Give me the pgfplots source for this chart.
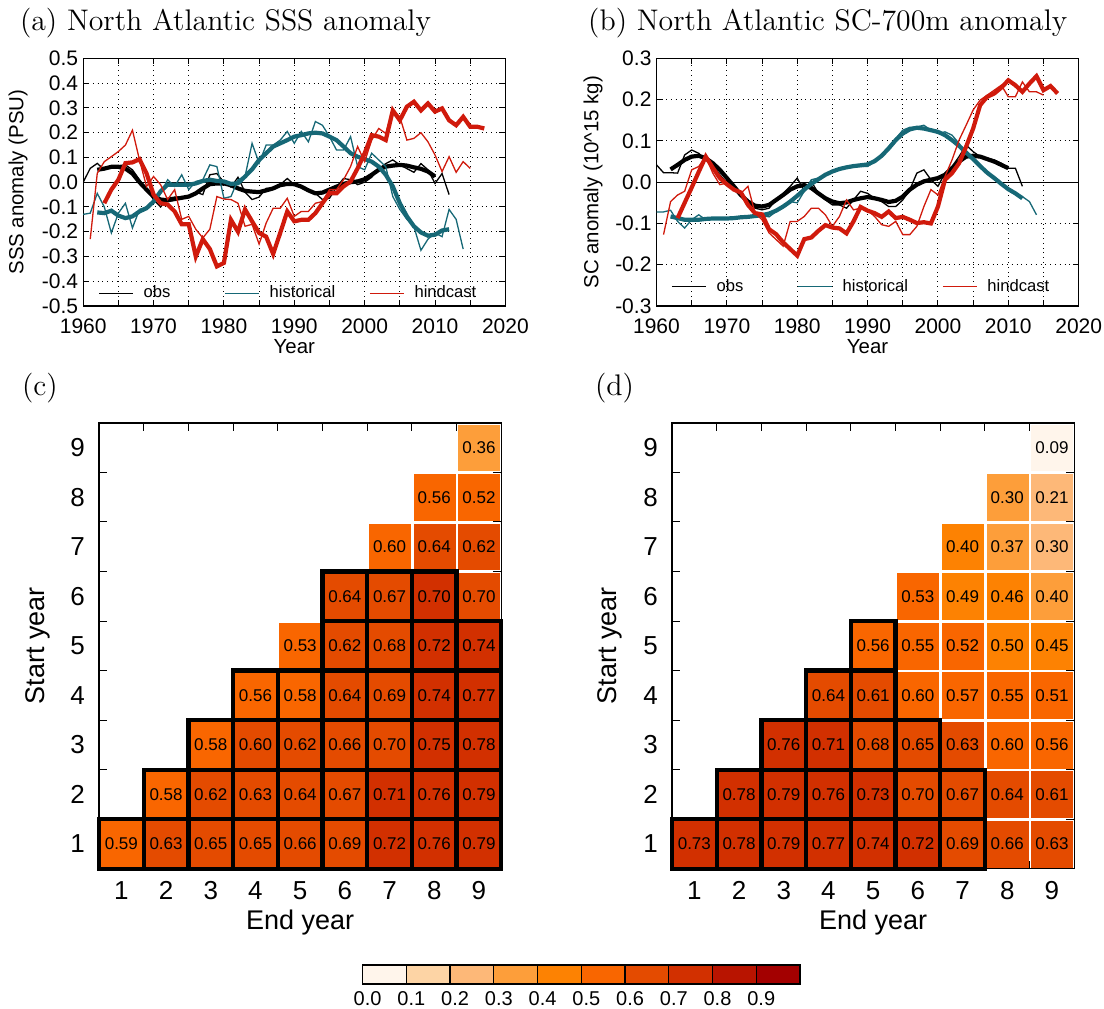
\documentclass[border=0pt]{standalone}
\usepackage{pgfplots}
\pgfplotsset{compat=1.18}
\usepackage{pgfplotstable}
\usepackage{fontspec}
\newfontfamily\arial{Liberation Sans}
\definecolor{obsc}{RGB}{0,0,0}
\definecolor{histc}{RGB}{22,104,118}
\definecolor{hindc}{RGB}{208,26,12}

\pgfplotstableread{
yr obs obsS hist histS hind hindS
1960 0.000 nan -0.130 nan nan nan
1961 0.056 nan -0.125 nan -0.230 nan
1962 0.076 0.050 -0.045 -0.122 0.036 nan
1963 0.050 0.055 -0.100 -0.125 0.083 -0.085
1964 0.063 0.062 -0.205 -0.115 0.103 -0.030
1965 0.067 0.062 -0.125 -0.135 0.124 0.010
1966 0.070 0.055 -0.085 -0.145 0.150 0.077
1967 0.050 0.035 -0.185 -0.138 0.210 0.080
1968 0.010 0.000 -0.110 -0.118 0.090 0.093
1969 -0.030 -0.030 -0.100 -0.105 -0.017 0.036
1970 -0.070 -0.058 -0.080 -0.078 0.023 -0.050
1971 -0.100 -0.070 -0.045 -0.037 -0.010 -0.085
1972 -0.065 -0.073 0.010 -0.010 -0.070 -0.090
1973 -0.060 -0.068 -0.017 -0.010 -0.030 -0.118
1974 -0.060 -0.063 0.030 -0.010 -0.150 -0.170
1975 -0.058 -0.058 -0.030 -0.010 -0.138 -0.170
1976 -0.040 -0.045 0.003 -0.005 -0.190 -0.300
1977 -0.050 -0.025 0.010 0.005 -0.225 -0.230
1978 0.030 -0.008 0.070 0.010 -0.190 -0.270
1979 0.035 -0.005 0.063 0.005 -0.058 -0.340
1980 0.000 -0.005 -0.065 0.003 -0.068 -0.326
1981 -0.020 -0.012 -0.058 -0.007 -0.070 -0.152
1982 0.020 -0.025 0.010 -0.004 -0.085 -0.200
1983 -0.040 -0.035 0.023 0.023 -0.178 -0.110
1984 -0.070 -0.038 0.157 0.052 -0.170 -0.158
1985 -0.060 -0.040 0.077 0.090 -0.250 -0.205
1986 -0.025 -0.033 0.150 0.117 -0.165 -0.220
1987 -0.025 -0.025 0.150 0.144 -0.105 -0.290
1988 -0.010 -0.012 0.170 0.157 -0.105 -0.205
1989 0.015 -0.007 0.205 0.170 -0.065 -0.118
1990 -0.010 -0.008 0.157 0.184 -0.138 -0.158
1991 -0.020 -0.018 0.205 0.190 -0.118 -0.152
1992 -0.030 -0.033 0.163 0.197 -0.118 -0.152
1993 -0.045 -0.045 0.245 0.200 -0.085 -0.125
1994 -0.070 -0.042 0.230 0.197 -0.078 -0.085
1995 -0.065 -0.030 0.184 0.184 -0.030 -0.045
1996 -0.020 -0.018 0.130 0.170 -0.030 -0.045
1997 0.015 -0.007 0.130 0.144 0.010 -0.017
1998 0.010 0.000 0.184 0.117 0.063 0.003
1999 -0.010 0.003 0.063 0.103 0.144 0.056
2000 0.000 0.012 0.050 0.093 0.083 0.117
2001 0.020 0.030 0.117 0.083 0.170 0.190
2002 0.055 0.050 0.090 0.063 0.217 0.184
2003 0.075 0.063 0.063 0.030 0.197 0.170
2004 0.090 0.067 -0.058 -0.017 0.290 0.290
2005 0.070 0.070 -0.110 -0.085 0.264 0.250
2006 0.055 0.067 -0.150 -0.138 0.170 0.305
2007 0.040 0.060 -0.180 -0.178 0.177 0.325
2008 0.075 0.054 -0.275 -0.203 0.200 0.290
2009 0.050 0.043 -0.230 -0.216 0.163 0.318
2010 -0.005 0.023 -0.205 -0.212 0.110 0.285
2011 0.035 nan -0.220 -0.195 0.043 0.298
2012 -0.050 nan -0.110 -0.190 0.103 0.250
2013 nan nan -0.150 nan 0.040 0.230
2014 nan nan -0.270 nan 0.083 0.264
2015 nan nan nan nan 0.056 0.224
2016 nan nan nan nan nan 0.224
2017 nan nan nan nan nan 0.217
}\atab

\pgfplotstableread{
yr obs obsS hist histS hind hindS
1960 0.042 nan -0.072 nan nan nan
1961 0.023 nan -0.072 nan -0.127 nan
1962 0.023 0.031 -0.068 -0.083 -0.047 nan
1963 0.022 0.042 -0.095 -0.087 -0.031 -0.087
1964 0.066 0.054 -0.111 -0.091 -0.022 -0.050
1965 0.078 0.062 -0.091 -0.091 0.030 -0.013
1966 0.070 0.064 -0.079 -0.091 0.038 0.025
1967 0.054 0.058 -0.091 -0.089 0.062 0.062
1968 0.042 0.046 -0.087 -0.088 0.022 0.035
1969 0.018 0.030 -0.089 -0.088 -0.006 0.010
1970 -0.002 0.010 -0.088 -0.088 -0.002 -0.005
1971 -0.018 -0.010 -0.087 -0.087 -0.018 -0.018
1972 -0.035 -0.031 -0.085 -0.085 -0.027 -0.025
1973 -0.050 -0.047 -0.084 -0.084 -0.010 -0.055
1974 -0.063 -0.057 -0.083 -0.082 -0.075 -0.075
1975 -0.067 -0.059 -0.081 -0.080 -0.091 -0.078
1976 -0.063 -0.055 -0.084 -0.076 -0.123 -0.114
1977 -0.043 -0.043 -0.071 -0.069 -0.139 -0.126
1978 -0.027 -0.031 -0.060 -0.059 -0.155 -0.146
1979 -0.010 -0.018 -0.047 -0.047 -0.095 -0.162
1980 0.010 -0.010 -0.050 -0.033 -0.095 -0.178
1981 -0.022 -0.007 -0.022 -0.018 -0.083 -0.138
1982 0.002 -0.014 0.006 -0.004 -0.063 -0.134
1983 -0.027 -0.027 0.010 0.007 -0.063 -0.118
1984 -0.043 -0.039 0.020 0.018 -0.079 -0.104
1985 -0.055 -0.047 0.026 0.026 -0.107 -0.110
1986 -0.055 -0.051 0.031 0.032 -0.083 -0.112
1987 -0.063 -0.049 0.036 0.036 -0.043 -0.124
1988 -0.043 -0.043 0.039 0.039 -0.067 -0.095
1989 -0.022 -0.039 0.038 0.041 -0.063 -0.060
1990 -0.027 -0.036 0.038 0.043 -0.068 -0.069
1991 -0.039 -0.039 0.050 0.051 -0.083 -0.075
1992 -0.047 -0.043 0.062 0.064 -0.103 -0.084
1993 -0.059 -0.048 0.086 0.082 -0.107 -0.071
1994 -0.059 -0.045 0.106 0.102 -0.095 -0.087
1995 -0.043 -0.035 0.126 0.118 -0.127 -0.084
1996 -0.018 -0.018 0.133 0.128 -0.127 -0.091
1997 0.022 -0.006 0.134 0.132 -0.107 -0.099
1998 0.030 0.002 0.138 0.130 -0.059 -0.097
1999 0.006 0.006 0.126 0.126 -0.018 -0.100
2000 -0.010 0.010 0.118 0.122 -0.031 -0.059
2001 0.022 0.018 0.122 0.114 0.014 0.006
2002 0.038 0.034 0.114 0.102 0.054 0.022
2003 0.062 0.050 0.094 0.088 0.102 0.046
2004 0.090 0.062 0.070 0.072 0.138 0.086
2005 0.074 0.064 0.054 0.056 0.175 0.130
2006 0.062 0.062 0.038 0.039 0.199 0.187
2007 0.058 0.056 0.022 0.023 0.211 0.207
2008 0.054 0.050 0.010 0.010 0.223 0.215
2009 0.046 0.042 -0.006 -0.004 0.235 0.229
2010 0.034 0.034 -0.018 -0.017 0.207 0.247
2011 0.034 nan -0.027 -0.027 0.207 0.235
2012 -0.010 nan -0.035 -0.039 0.243 0.219
2013 nan nan -0.047 nan 0.219 0.239
2014 nan nan -0.079 nan 0.219 0.257
2015 nan nan nan nan 0.211 0.223
2016 nan nan nan nan nan 0.233
2017 nan nan nan nan nan 0.215
}\btab

\pgfplotstableread{
e s v
1 1 0.59
2 1 0.63
3 1 0.65
4 1 0.65
5 1 0.66
6 1 0.69
7 1 0.72
8 1 0.76
9 1 0.79
2 2 0.58
3 2 0.62
4 2 0.63
5 2 0.64
6 2 0.67
7 2 0.71
8 2 0.76
9 2 0.79
3 3 0.58
4 3 0.602
5 3 0.62
6 3 0.66
7 3 0.698
8 3 0.75
9 3 0.78
4 4 0.56
5 4 0.58
6 4 0.64
7 4 0.69
8 4 0.74
9 4 0.77
5 5 0.53
6 5 0.62
7 5 0.68
8 5 0.72
9 5 0.74
6 6 0.64
7 6 0.67
8 6 0.702
9 6 0.698
7 7 0.598
8 7 0.64
9 7 0.62
8 8 0.56
9 8 0.52
9 9 0.36
}\ctab

\pgfplotstableread{
e s
1 1
2 1
3 1
4 1
5 1
6 1
7 1
8 1
9 1
2 2
3 2
4 2
5 2
6 2
7 2
8 2
9 2
3 3
4 3
5 3
6 3
7 3
8 3
9 3
4 4
5 4
6 4
7 4
8 4
9 4
6 5
7 5
8 5
9 5
6 6
7 6
8 6
}\csig

\pgfplotstableread{
e s v
1 1 0.73
2 1 0.78
3 1 0.79
4 1 0.77
5 1 0.74
6 1 0.72
7 1 0.69
8 1 0.66
9 1 0.63
2 2 0.78
3 2 0.79
4 2 0.76
5 2 0.73
6 2 0.698
7 2 0.67
8 2 0.64
9 2 0.61
3 3 0.76
4 3 0.71
5 3 0.68
6 3 0.65
7 3 0.63
8 3 0.598
9 3 0.56
4 4 0.64
5 4 0.61
6 4 0.598
7 4 0.57
8 4 0.55
9 4 0.51
5 5 0.56
6 5 0.55
7 5 0.52
8 5 0.498
9 5 0.45
6 6 0.53
7 6 0.49
8 6 0.46
9 6 0.398
7 7 0.402
8 7 0.37
9 7 0.298
8 8 0.302
9 8 0.21
9 9 0.09
}\dtab

\pgfplotstableread{
e s
1 1
2 1
3 1
4 1
5 1
6 1
7 1
2 2
3 2
4 2
5 2
6 2
7 2
3 3
4 3
5 3
6 3
4 4
5 4
5 5
}\dsig

\pgfplotsset{
  colormap={orng}{rgb255=(255,245,235) rgb255=(253,212,165) rgb255=(253,184,120) rgb255=(253,158,58) rgb255=(253,130,2) rgb255=(249,102,0) rgb255=(228,75,0) rgb255=(210,48,0) rgb255=(184,20,0) rgb255=(163,0,0)},
  lineax/.style={
    scale only axis, width=211.1pt, height=123.8pt, anchor=south west,
    xmin=1960, xmax=2020,
    xtick={1960,1970,...,2020}, minor xtick={1965,1975,...,2015},
    grid=both,
    major grid style={dotted, black, line width=0.5pt},
    minor grid style={dotted, black, line width=0.5pt},
    tick align=inside, major tick length=3pt, minor tick length=3pt,
    tick style={black, line width=0.5pt},
    axis line style={black, line width=0.7pt},
    /pgf/number format/assume math mode=true,
    /pgf/number format/1000 sep={},
    ticklabel style={font=\arial\fontsize{10.5}{11}\selectfont},
    xticklabel style={yshift=-3pt},
    yticklabel style={xshift=1pt, /pgf/number format/.cd, fixed, fixed zerofill, precision=1},
    scaled y ticks=false,
    label style={font=\arial\fontsize{10.2}{12}\selectfont},
    xlabel={Year},
    xlabel style={at={(axis description cs:0.5,-0.165)}, anchor=center},
    legend columns=3,
    legend image code/.code={\draw[#1] (0pt,0pt) -- (17pt,0pt);},
  },
  legsty/.style={draw=none, fill=none, font=\arial\fontsize{8.3}{10}\selectfont,
    anchor=west, inner sep=0pt,
    /tikz/column 1/.style={column sep=3pt}, /tikz/column 3/.style={column sep=3pt},
    /tikz/column 5/.style={column sep=3pt},
    /tikz/column 2/.style={column sep=25pt}, /tikz/column 4/.style={column sep=15pt}},
  thn/.style={line width=0.65pt},
  thk/.style={line width=2.1pt, forget plot},
  hm/.style={
    scale only axis, width=201.15pt, height=222.9pt, anchor=south west,
    xmin=0.5, xmax=9.5, ymin=0.5, ymax=9.5,
    xtick={1,...,9}, ytick={1,...,9},
    minor xtick={1.5,2.5,...,8.5}, minor ytick={1.5,2.5,...,8.5},
    major tick length=0pt, minor tick length=4pt, tick align=inside,
    tick style={black, line width=0.5pt},
    axis line style={black, line width=0.7pt},
    /pgf/number format/assume math mode=true,
    ticklabel style={font=\arial\fontsize{13}{14}\selectfont},
    xticklabel style={yshift=-3pt}, yticklabel style={xshift=-3.5pt},
    label style={font=\arial\fontsize{13.5}{15}\selectfont},
    xlabel={End year}, ylabel={Start year},
    xlabel style={at={(axis description cs:0.5,-0.12)}, anchor=center},
    colormap name=orng, colormap access=piecewise constant,
    point meta min=0, point meta max=1,
    clip=false,
  },
  hmfill/.style={scatter, only marks, mark=square*, point meta=explicit,
    scatter/use mapped color={draw=mapped color, fill=mapped color},
    line width=0.2pt, mark size=11.45pt, mark options={xscale=0.895}},
  hmsig/.style={only marks, mark=square, mark size=12.38pt,
    mark options={draw=black, line width=2.1pt, xscale=0.902}},
  hmtext/.style={only marks, mark=none, point meta=explicit,
    nodes near coords={\pgfmathprintnumber[fixed, fixed zerofill, precision=2]{\pgfplotspointmeta}},
    nodes near coords align={center},
    every node near coord/.append style={font=\arial\fontsize{8.5}{10}\selectfont, text=black, inner sep=0pt}},
}

\begin{document}
\begin{tikzpicture}
\path[use as bounding box] (0pt,0pt) rectangle (552pt,504pt);

\node[anchor=west, inner sep=0pt, font=\fontsize{14.9}{16}\selectfont] at (9.8pt,492.3pt) {(a) North Atlantic SSS anomaly};
\node[anchor=west, inner sep=0pt, font=\fontsize{14.9}{16}\selectfont] at (293.9pt,492.3pt) {(b) North Atlantic SC-700m anomaly};
\node[anchor=west, inner sep=0pt, font=\fontsize{14.9}{16}\selectfont] at (10.8pt,310.2pt) {(c)};
\node[anchor=west, inner sep=0pt, font=\fontsize{14.9}{16}\selectfont] at (297.3pt,310.2pt) {(d)};

% (a)
\begin{axis}[lineax, at={(41.6pt,351pt)},
  ymin=-0.5, ymax=0.5,
  ytick={-0.5,-0.4,-0.3,-0.2,-0.1,0,0.1,0.2,0.3,0.4,0.5},
  ylabel={SSS anomaly (PSU)},
  ylabel style={at={(axis description cs:-0.154,0.5)}, anchor=center},
  legend style={legsty, at={(axis description cs:0.035,0.051)}},
]
\addplot[black, line width=0.5pt, forget plot] coordinates {(1960,0) (2020,0)};
\addplot[obsc, thn] table[x=yr, y=obs] {\atab}; \addlegendentry{obs}
\addplot[obsc, thk] table[x=yr, y=obsS] {\atab};
\addplot[histc, thn] table[x=yr, y=hist] {\atab}; \addlegendentry{historical}
\addplot[histc, thk] table[x=yr, y=histS] {\atab};
\addplot[hindc, thn] table[x=yr, y=hind] {\atab}; \addlegendentry{hindcast}
\addplot[hindc, thk] table[x=yr, y=hindS] {\atab};
\end{axis}

% (b)
\begin{axis}[lineax, at={(328.25pt,351pt)},
  ymin=-0.3, ymax=0.3,
  ytick={-0.3,-0.2,-0.1,0,0.1,0.2,0.3},
  ylabel={SC anomaly (10\^{}15 kg)},
  ylabel style={at={(axis description cs:-0.150,0.5)}, anchor=center},
  legend style={legsty, at={(axis description cs:0.034,0.078)}},
]
\addplot[black, line width=0.5pt, forget plot] coordinates {(1960,0) (2020,0)};
\addplot[obsc, thn] table[x=yr, y=obs] {\btab}; \addlegendentry{obs}
\addplot[obsc, thk] table[x=yr, y=obsS] {\btab};
\addplot[histc, thn] table[x=yr, y=hist] {\btab}; \addlegendentry{historical}
\addplot[histc, thk] table[x=yr, y=histS] {\btab};
\addplot[hindc, thn] table[x=yr, y=hind] {\btab}; \addlegendentry{hindcast}
\addplot[hindc, thk] table[x=yr, y=hindS] {\btab};
\end{axis}

% (c)
\begin{axis}[hm, at={(49.5pt,69.65pt)},
  ylabel style={at={(axis description cs:-0.151,0.5)}, anchor=center}]
\addplot[hmfill] table[x=e, y=s, meta=v] {\ctab};
\addplot[hmsig] table[x=e, y=s] {\csig};
\addplot[hmtext] table[x=e, y=s, meta=v] {\ctab};
\end{axis}

% (d)
\begin{axis}[hm, at={(336pt,69.65pt)},
  ylabel style={at={(axis description cs:-0.154,0.5)}, anchor=center}]
\addplot[hmfill] table[x=e, y=s, meta=v] {\dtab};
\addplot[hmsig] table[x=e, y=s] {\dsig};
\addplot[hmtext] table[x=e, y=s, meta=v] {\dtab};
\end{axis}

% colorbar
\begin{axis}[scale only axis, anchor=south west, at={(181.3pt,12pt)}, width=218.7pt, height=9.5pt,
  xmin=0, xmax=1, ymin=0, ymax=1, clip=false,
  axis line style={draw=none}, ytick=\empty,
  xtick={0,0.1,0.2,0.3,0.4,0.5,0.6,0.7,0.8,0.9},
  major tick length=0pt, tick style={draw=none},
  /pgf/number format/assume math mode=true,
  xticklabel style={font=\arial\fontsize{10}{12}\selectfont, xshift=2.5pt, /pgf/number format/.cd, fixed, fixed zerofill, precision=1},
  colormap name=orng, colormap access=piecewise constant,
  point meta min=0, point meta max=1]
\addplot[scatter, only marks, mark=square*, mark size=4.75pt, point meta=explicit,
  mark options={xscale=2.3, line width=0.6pt},
  scatter/use mapped color={draw=black, fill=mapped color}]
  coordinates {(0.05,0.5) [0.05] (0.15,0.5) [0.15] (0.25,0.5) [0.25] (0.35,0.5) [0.35] (0.45,0.5) [0.45]
               (0.55,0.5) [0.55] (0.65,0.5) [0.65] (0.75,0.5) [0.75] (0.85,0.5) [0.85] (0.95,0.5) [0.95]};
\end{axis}
\end{tikzpicture}
\end{document}
